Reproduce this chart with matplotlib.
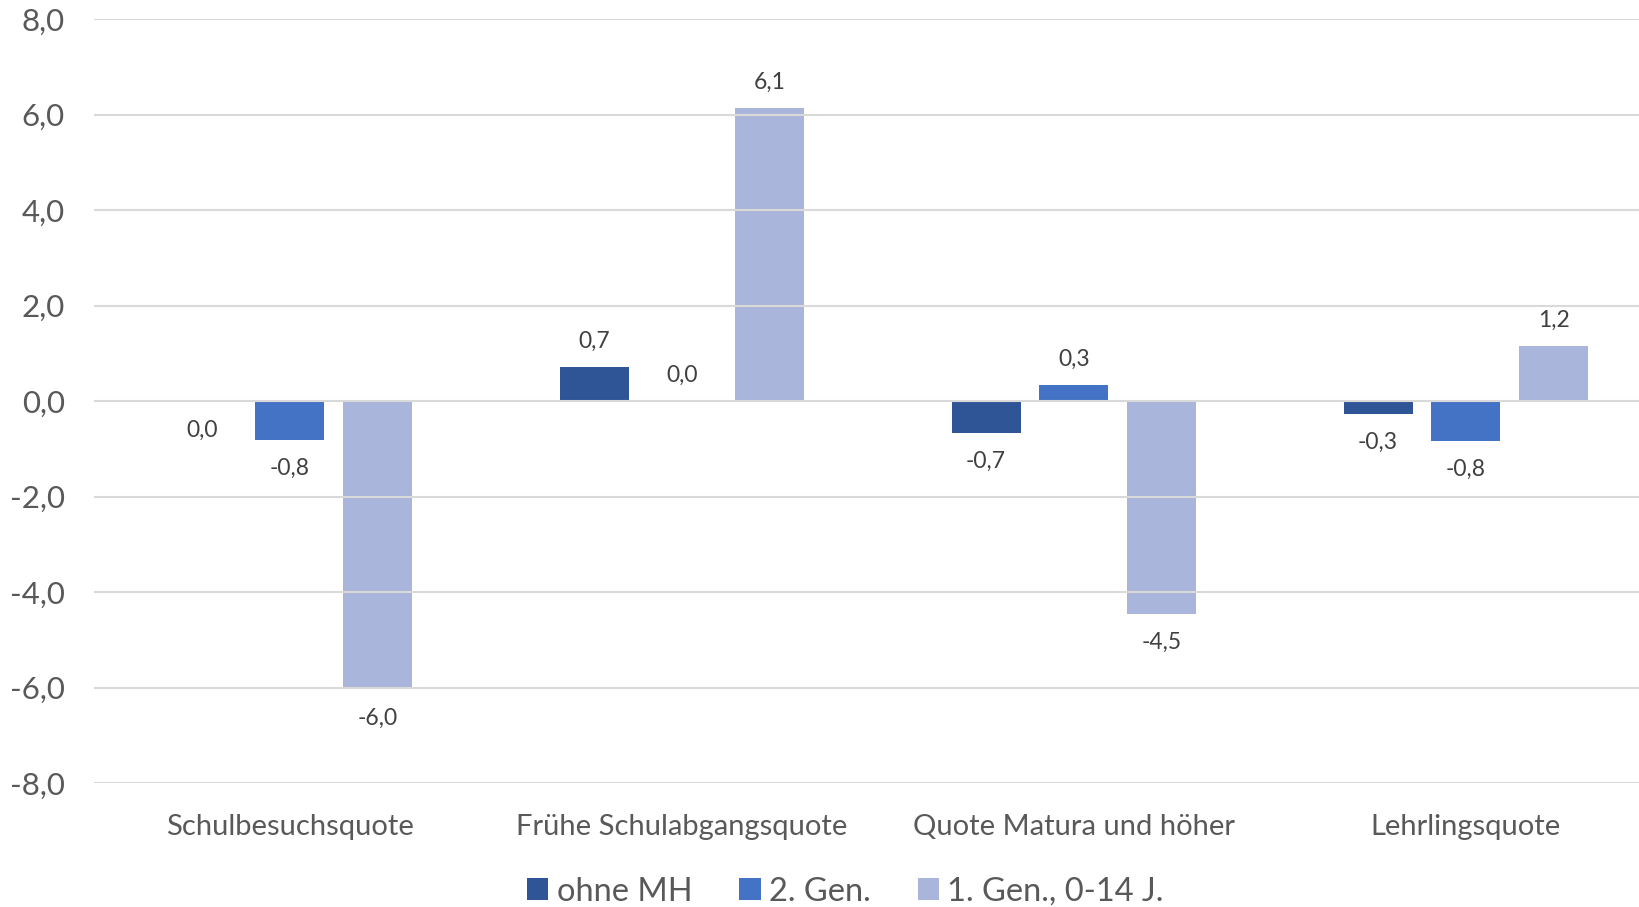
import numpy as np
import matplotlib.pyplot as plt

plt.rcParams['font.family'] = ['Lato', 'DejaVu Sans']

categories = ['Schulbesuchsquote', 'Frühe Schulabgangsquote',
              'Quote Matura und höher', 'Lehrlingsquote']
series = ['ohne MH', '2. Gen.', '1. Gen., 0-14 J.']
ohne_mh = [-0.02, 0.72, -0.67, -0.27]
gen2 = [-0.82, 0.0, 0.33, -0.84]
gen1 = [-6.04, 6.13, -4.46, 1.16]
colors = ['#2F5597', '#4472C4', '#A9B5DA']
yticks = np.arange(-8, 9, 2)


def de(v):
    s = '%.1f' % v
    if s == '-0.0':
        s = '0.0'
    return s.replace('.', ',')


fig = plt.figure(figsize=(16.4, 9.07), dpi=100)
# plot area runs slightly past the right edge of the figure
ax = fig.add_axes([0.0573, 0.1367, 0.956, 0.8423])

x = np.arange(len(categories))
step = 0.224
width = 0.176
for j, (vals, name) in enumerate(zip([ohne_mh, gen2, gen1], series)):
    pos = x + (j - 1) * step
    ax.bar(pos, vals, width, color=colors[j], label=name, zorder=2)
    for px, v in zip(pos, vals):
        up = v > 0.05 or (de(v) == '0,0' and j == 1)
        ax.annotate(de(v), (px, v), xytext=(0, 11 if up else -13),
                    textcoords='offset points', ha='center',
                    va='bottom' if up else 'top', fontsize=16.5, color='#404040')

ax.set_xlim(-0.5, 3.5)
ax.set_ylim(-8, 8)
ax.set_yticks(yticks)
ax.set_yticklabels([de(t) for t in yticks], fontsize=22.5, color='#595959')
ax.set_xticks(x)
ax.set_xticklabels(categories, fontsize=21, color='#595959')
ax.tick_params(axis='x', length=0, pad=22)
ax.tick_params(axis='y', length=0, pad=21)
ax.grid(axis='y', color='#D9D9D9', linewidth=1.5, zorder=3)
ax.set_axisbelow(False)
for sp in ax.spines.values():
    sp.set_visible(False)

ax.legend(loc='center', bbox_to_anchor=(0.5155, 0.017), bbox_transform=fig.transFigure,
          ncol=3, frameon=False, fontsize=23.5, handlelength=0.65, handleheight=0.65,
          handletextpad=0.25, columnspacing=1.45, labelcolor='#595959')

fig.savefig('out.png', dpi=100)
